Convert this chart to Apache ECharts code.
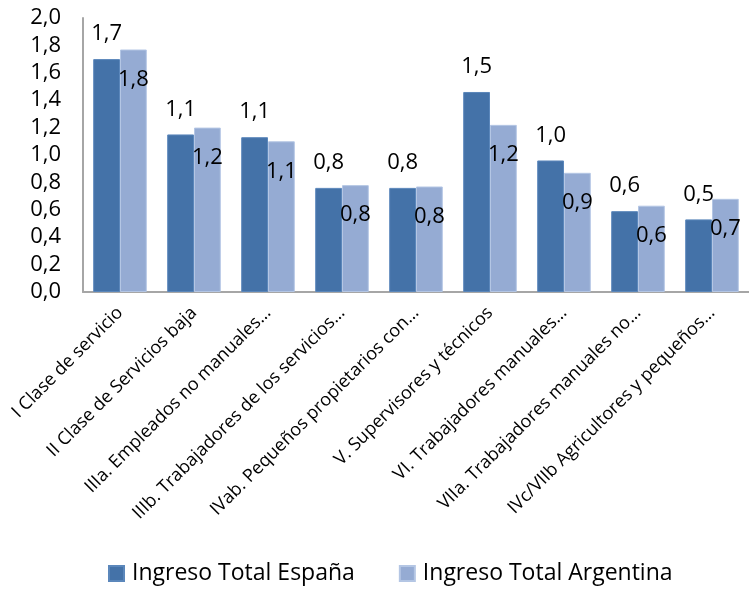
<!DOCTYPE html>
<html>
<head>
<meta charset="utf-8">
<script src="https://cdn.jsdelivr.net/npm/echarts@6/dist/echarts.min.js"></script>
<style>html,body{margin:0;padding:0;background:#fff;}#chart{width:749px;height:589px;}</style>
</head>
<body>
<div id="chart"></div>
<script>
const categories = [
  "I Clase de servicio",
  "II Clase de Servicios baja",
  "IIIa. Empleados no manuales…",
  "IIIb. Trabajadores de los servicios…",
  "IVab. Pequeños propietarios con…",
  "V. Supervisores y técnicos",
  "VI. Trabajadores manuales…",
  "VIIa. Trabajadores manuales no…",
  "IVc/VIIb Agricultores y pequeños…"
];
const espana = [1.70, 1.15, 1.13, 0.76, 0.76, 1.46, 0.96, 0.59, 0.53];
const argentina = [1.77, 1.20, 1.10, 0.78, 0.77, 1.22, 0.87, 0.63, 0.68];
const seriesNames = ["Ingreso Total España", "Ingreso Total Argentina"];
const yTicks = { min: 0, max: 2, interval: 0.2 };

const FONT = "Open Sans";
const fmt = v => v.toFixed(1).replace('.', ',');

const chart = echarts.init(document.getElementById('chart'));
chart.setOption({
  animation: false,
  textStyle: { fontFamily: FONT },
  grid: { left: 83, right: -5, top: 18, bottom: 297, containLabel: false },
  legend: {
    bottom: -1,
    left: 103,
    itemWidth: 15, itemHeight: 15, itemGap: 44,
    icon: 'rect',
    textStyle: { fontFamily: FONT, fontSize: 23, color: '#000', padding: [0, 0, 0, 3] },
    data: seriesNames
  },
  xAxis: {
    type: 'category',
    data: categories,
    axisTick: { show: false },
    axisLine: { lineStyle: { color: '#a6a6a6', width: 2 } },
    axisLabel: { interval: 0, rotate: 45, margin: 18, fontSize: 18, color: '#000', fontFamily: FONT }
  },
  yAxis: {
    type: 'value',
    min: yTicks.min, max: yTicks.max, interval: yTicks.interval,
    splitLine: { show: false },
    axisTick: { show: false },
    axisLine: { show: true, lineStyle: { color: '#a6a6a6', width: 2 } },
    axisLabel: { formatter: fmt, fontSize: 22, color: '#000', margin: 22, fontFamily: FONT }
  },
  series: [
    {
      name: seriesNames[0], type: 'bar', data: espana,
      barGap: '0%', barCategoryGap: '27.6%',
      itemStyle: { color: '#4472a8', borderColor: '#5b87bb', borderWidth: 1 },
      label: { show: true, position: 'top', distance: 14, formatter: p => fmt(p.value), fontSize: 22, color: '#000', fontFamily: FONT }
    },
    {
      name: seriesNames[1], type: 'bar', data: argentina,
      barGap: '0%', barCategoryGap: '27.6%',
      itemStyle: { color: '#95abd3', borderColor: '#b4c6e4', borderWidth: 1 },
      label: { show: true, position: 'insideTop', distance: 19, formatter: p => fmt(p.value), fontSize: 22, color: '#000', fontFamily: FONT }
    }
  ]
});
</script>
</body>
</html>
